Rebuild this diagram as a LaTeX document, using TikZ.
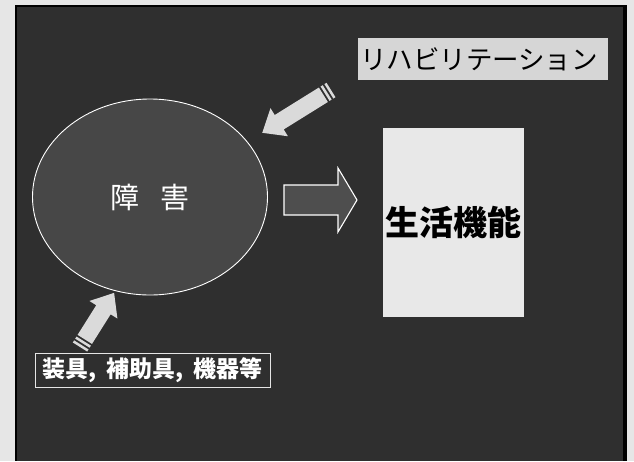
\documentclass[tikz,border=0pt]{standalone}
\usepackage{fontspec}
\newfontfamily\jp{Noto Sans CJK JP}
\usetikzlibrary{shapes.geometric}
\definecolor{pagebg}{HTML}{E6E6E6}
\definecolor{slidebg}{HTML}{2F2F2F}
\definecolor{circfill}{HTML}{474747}
\definecolor{lightbox}{HTML}{D6D6D6}
\definecolor{whitebox}{HTML}{E8E8E8}
\definecolor{arrowfill}{HTML}{DADADA}
\definecolor{blockfill}{HTML}{4E4E4E}
\newcommand\fatarrowshape[1]{%
  \fill[arrowfill] (0,-8.5) rectangle (2.5,8.5);
  \fill[arrowfill] (4.5,-8.5) rectangle (7,8.5);
  \fill[arrowfill] (9,-8.5) -- (#1-20,-8.5) -- (#1-20,-16.5) -- (#1,0) -- (#1-20,16.5) -- (#1-20,8.5) -- (9,8.5) -- cycle;}
\tikzset{
  darktext/.style={text=black, font=\jp},
  whitetext/.style={text=white, font=\jp},
}
\begin{document}
\begin{tikzpicture}[x=1pt,y=-1pt]
\useasboundingbox (0,0) rectangle (634,461);
\fill[pagebg] (0,0) rectangle (634,461);
\fill[black] (15,5) rectangle (627,461);
\fill[slidebg] (17,7) rectangle (623,461);
% circle
\node (imp) [ellipse, draw=white, line width=0.9pt, fill=circfill, minimum width=235pt, minimum height=196pt, inner sep=0pt, whitetext, font=\jp\fontsize{29}{33}\selectfont] at (150,197) {障\hspace{21pt}害};
% life function box
\node (life) [rectangle, fill=whitebox, minimum width=141pt, minimum height=189pt, inner sep=0pt, darktext, font=\jp\bfseries\fontsize{34}{38}\selectfont] at (453.5,222.5) {生活機能};
% rehabilitation label
\node (rehabbox) [rectangle, fill=lightbox, minimum width=250pt, minimum height=42pt, inner sep=0pt] at (483,59) {};
\node (rehab) [inner sep=0pt, darktext, font=\jp\fontsize{26.5}{30}\selectfont] at (479,59) {リハビリテーション};
% devices label
\node (dev) [rectangle, draw=white!90!black, line width=0.8pt, fill=slidebg, minimum width=235pt, minimum height=34pt, inner sep=0pt, whitetext, font=\jp\bfseries\fontsize{23}{27}\selectfont] at (152.5,370) {装具,\hspace{0.42em}補助具,\hspace{0.42em}機器等};
% block arrow
\draw[white, line width=1.1pt, fill=blockfill] (284,185) -- (338,185) -- (338,168) -- (357,200) -- (338,232) -- (338,215) -- (284,215) -- cycle;
% rehab arrow
\begin{scope}[shift={(331,90)}, rotate=211.9]
\fatarrowshape{81}
\end{scope}
% device arrow
\begin{scope}[shift={(80,347)}, rotate=57.8]
\fatarrowshape{64}
\end{scope}
\end{tikzpicture}
\end{document}
